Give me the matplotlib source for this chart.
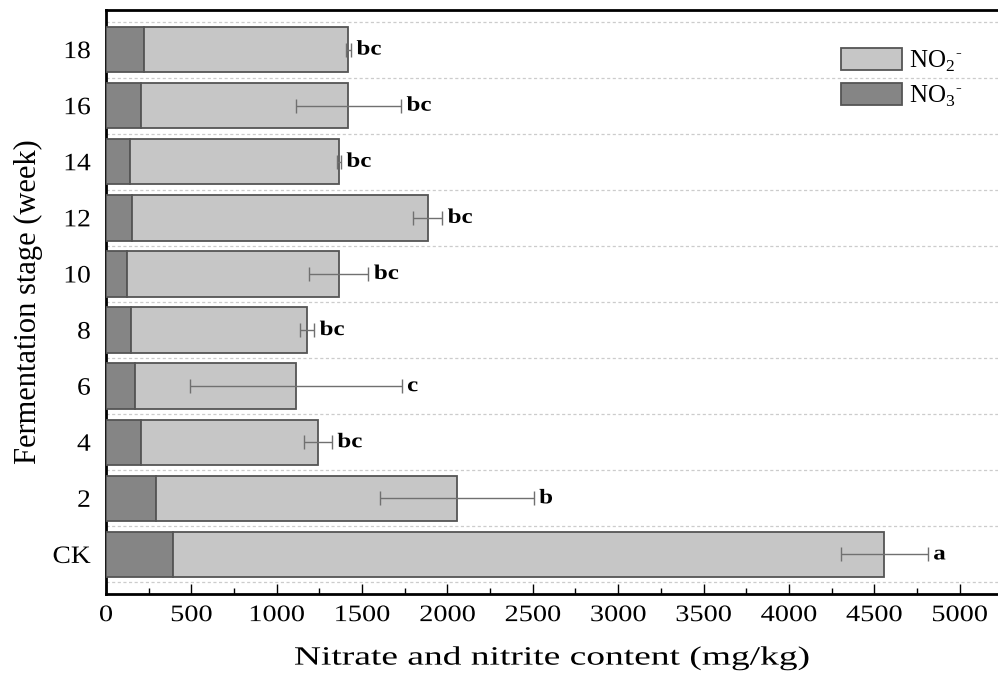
import numpy as np
import matplotlib
matplotlib.use("Agg")
from matplotlib import pyplot as plt
from matplotlib.ticker import MultipleLocator
from matplotlib.patheffects import AbstractPathEffect
from matplotlib.transforms import Affine2D

plt.rcParams["font.family"] = ["Liberation Serif", "DejaVu Serif"]
plt.rcParams["mathtext.fontset"] = "custom"
plt.rcParams["mathtext.rm"] = "Liberation Serif"

# data
stages = ["CK", "2", "4", "6", "8", "10", "12", "14", "16", "18"]
nitrate = [391, 291, 205, 170, 147, 121, 150, 141, 205, 225]
nitrite = [4169, 1764, 1036, 942, 1031, 1241, 1734, 1223, 1215, 1195]
errors = [254, 450, 82, 620, 41, 175, 85, 12, 308, 15]
letters = ["a", "b", "bc", "c", "bc", "bc", "bc", "bc", "bc", "bc"]

no2_color = "#c6c6c6"
no3_color = "#858585"
edge = "#555555"


class Stretch(AbstractPathEffect):
    # widens the glyphs horizontally, the reference text is drawn wide
    def __init__(self, sx, anchor="center"):
        super().__init__()
        self.sx = sx
        self.anchor = anchor

    def draw_path(self, renderer, gc, tpath, affine, rgbFace=None):
        ext = tpath.get_extents(affine)
        if self.anchor == "left":
            cx = ext.x0
        elif self.anchor == "right":
            cx = ext.x1
        else:
            cx = 0.5 * (ext.x0 + ext.x1)
        aff = affine + Affine2D().translate(-cx, 0).scale(self.sx, 1).translate(cx, 0)
        renderer.draw_path(gc, tpath, aff, rgbFace)


fig = plt.figure(figsize=(9.98, 6.73), dpi=100)
ax = fig.add_axes([0.1062, 0.1174, 0.8938, 0.8677])

y = np.arange(len(stages))
nitrate = np.array(nitrate)
nitrite = np.array(nitrite)
total = nitrate + nitrite

ax.barh(y, nitrate, height=0.81, color=no3_color, edgecolor=edge,
        linewidth=1.3, label=r"NO$_3$$^{\text{-}}$", zorder=3)
ax.barh(y, nitrite, left=nitrate, height=0.81, color=no2_color,
        edgecolor=edge, linewidth=1.3, label=r"NO$_2$$^{\text{-}}$", zorder=3)
ax.errorbar(total, y, xerr=errors, fmt="none", ecolor="#707070",
            elinewidth=1.0, capsize=5, capthick=1.0, zorder=4)

for yi, t, e, s in zip(y, total, errors, letters):
    txt = ax.annotate(s, (t + e, yi), xytext=(4, 0), textcoords="offset points",
                      ha="left", va="center", fontsize=15, fontweight="bold")
    txt.set_path_effects([Stretch(1.2, "left")])

ax.set_xlim(0, 5225)
ax.set_ylim(-0.705, len(stages) - 1 + 0.705)
ax.set_yticks(y)
ax.set_yticklabels(stages)
ax.yaxis.set_minor_locator(MultipleLocator(1, offset=0.5))
ax.grid(which="minor", axis="y", color="#cccccc", linestyle=(0, (2.5, 2)),
        linewidth=0.9, zorder=0)

ax.xaxis.set_major_locator(MultipleLocator(500))
ax.xaxis.set_minor_locator(MultipleLocator(250))
ax.tick_params(axis="x", which="major", direction="in", length=7, width=1,
               labelsize=17, pad=8)
ax.tick_params(axis="x", which="minor", direction="in", length=4, width=1)
ax.tick_params(axis="y", which="both", length=0, labelsize=18, pad=11)

for lbl in ax.get_xticklabels():
    lbl.set_path_effects([Stretch(1.2)])
for lbl in ax.get_yticklabels():
    lbl.set_path_effects([Stretch(1.1, "right")])

for side in ["left", "bottom", "top"]:
    ax.spines[side].set_linewidth(2)
ax.spines["right"].set_visible(False)

xl = ax.set_xlabel("Nitrate and nitrite content (mg/kg)", fontsize=19, labelpad=15)
xl.set_path_effects([Stretch(1.42)])
ax.set_ylabel("Fermentation stage (week)", fontsize=22, labelpad=9)

handles, labels = ax.get_legend_handles_labels()
ax.legend(handles[::-1], labels[::-1], loc="upper left",
          bbox_to_anchor=(0.8237, 0.935), frameon=False, fontsize=18,
          handlelength=2.44, handleheight=0.96, labelspacing=0.38,
          handletextpad=0.3, borderpad=0, borderaxespad=0)

fig.savefig("out.png", dpi=100)
